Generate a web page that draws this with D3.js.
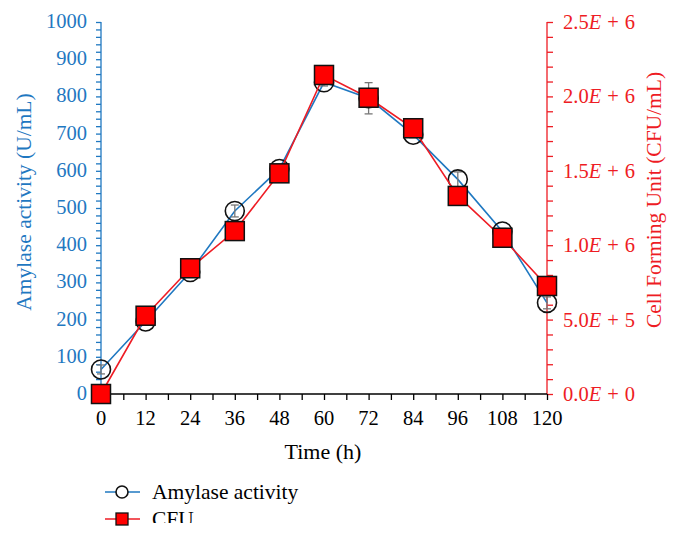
<!DOCTYPE html>
<html><head><meta charset="utf-8">
<script src="https://cdn.jsdelivr.net/npm/d3@7"></script>
<style>body{margin:0;background:#fff}svg{display:block}text{font-family:"Liberation Serif","DejaVu Serif",serif}</style>
</head><body><svg id="c" width="682" height="538"></svg>
<script>
const hours = [0,12,24,36,48,60,72,84,96,108,120];
const amylase = [66,195,328,492,605,838,795,697,577,437,245];
const amylaseErr = [12,8,8,16,8,10,42,8,20,8,16];
const cfu = [0,526000,845000,1095000,1483000,2144000,1991000,1786000,1331000,1050000,726000];
const xTicks = [0,12,24,36,48,60,72,84,96,108,120];
const leftTicks = [0,100,200,300,400,500,600,700,800,900,1000];
const rightTicks = [0,500000,1000000,1500000,2000000,2500000];
const rightLabels = [["0.0","0"],["5.0","5"],["1.0","6"],["1.5","6"],["2.0","6"],["2.5","6"]];

const blue = "#1f78c1", red = "#ee1c24";
const svg = d3.select("#c");
const L = 101, R = 547, T = 22, B = 394;
const x = d3.scaleLinear().domain([0,120]).range([L,R]);
const yL = d3.scaleLinear().domain([0,1000]).range([B,T]);
const yR = d3.scaleLinear().domain([0,2500000]).range([B,T]);

svg.append("defs").append("clipPath").attr("id","legclip")
  .append("rect").attr("x",0).attr("y",0).attr("width",682).attr("height",523);

// left axis
const gl = svg.append("g").attr("transform",`translate(${L},0)`);
gl.call(d3.axisLeft(yL).tickValues(d3.range(0,1001,20)).tickSize(5).tickFormat(""));
gl.selectAll("line,path").attr("stroke",blue).attr("stroke-width",1.3);
gl.select(".domain").attr("d",`M0,${T}V${B}`);
gl.selectAll(null).data(leftTicks).enter().append("text")
  .attr("x",-14).attr("y",d=>yL(d)+6).attr("text-anchor","end")
  .attr("fill",blue).attr("font-size",20.5).text(d=>d);

// right axis
const gr = svg.append("g").attr("transform",`translate(${R},0)`);
gr.call(d3.axisRight(yR).tickValues(d3.range(0,2500001,100000)).tickSize(6).tickFormat(""));
gr.selectAll("line,path").attr("stroke",red).attr("stroke-width",1.3);
gr.select(".domain").attr("d",`M0,${T}V${B}`);
const rt = gr.selectAll(null).data(rightTicks).enter().append("text")
  .attr("x",16).attr("y",d=>yR(d)+7).attr("fill",red).attr("font-size",20.5);
rt.each(function(d,i){
  const t=d3.select(this);
  t.append("tspan").text(rightLabels[i][0]);
  t.append("tspan").attr("font-style","italic").text("E");
  t.append("tspan").attr("dx",6).text("+");
  t.append("tspan").attr("dx",6).text(rightLabels[i][1]);
});

// bottom axis
const gb = svg.append("g").attr("transform",`translate(0,${B})`);
gb.call(d3.axisBottom(x).tickValues(d3.range(0,121,6)).tickSize(6).tickFormat(""));
gb.selectAll("line,path").attr("stroke","#000").attr("stroke-width",1.3);
gb.select(".domain").attr("d",`M${L},0H${R}`);
gb.selectAll(null).data(xTicks).enter().append("text")
  .attr("x",d=>x(d)).attr("y",31).attr("text-anchor","middle")
  .attr("font-size",20.5).attr("fill","#000").text(d=>d);

// titles
svg.append("text").attr("transform",`translate(31,202) rotate(-90)`).attr("text-anchor","middle")
  .attr("fill",blue).attr("font-size",21.5).text("Amylase activity (U/mL)");
svg.append("text").attr("transform",`translate(661,200) rotate(-90)`).attr("text-anchor","middle")
  .attr("fill",red).attr("font-size",21.5).text("Cell Forming Unit (CFU/mL)");
svg.append("text").attr("x",323).attr("y",459).attr("text-anchor","middle")
  .attr("font-size",22).attr("fill","#000").text("Time (h)");

// amylase series
const dA = hours.map((h,i)=>({h,v:amylase[i],e:amylaseErr[i]}));
const dC = hours.map((h,i)=>({h,v:cfu[i]}));
svg.append("path").datum(dA).attr("fill","none").attr("stroke",blue).attr("stroke-width",1.6)
  .attr("d",d3.line().x(d=>x(d.h)).y(d=>yL(d.v)));
const eb = svg.append("g").attr("stroke","#777").attr("stroke-width",1.3);
dA.forEach(d=>{
  const y1=yL(d.v+d.e), y2=yL(d.v-d.e), cx=x(d.h);
  eb.append("line").attr("x1",cx).attr("x2",cx).attr("y1",y1).attr("y2",y2);
  eb.append("line").attr("x1",cx-4).attr("x2",cx+4).attr("y1",y1).attr("y2",y1);
  eb.append("line").attr("x1",cx-4).attr("x2",cx+4).attr("y1",y2).attr("y2",y2);
});
svg.append("g").selectAll("circle").data(dA).enter().append("circle")
  .attr("cx",d=>x(d.h)).attr("cy",d=>yL(d.v)).attr("r",9.5)
  .attr("fill","none").attr("stroke","#111").attr("stroke-width",1.6);

// CFU series
svg.append("path").datum(dC).attr("fill","none").attr("stroke",red).attr("stroke-width",1.6)
  .attr("d",d3.line().x(d=>x(d.h)).y(d=>yR(d.v)));
svg.append("g").selectAll("rect").data(dC).enter().append("rect")
  .attr("x",d=>x(d.h)-9.5).attr("y",d=>yR(d.v)-9.5).attr("width",19).attr("height",19)
  .attr("fill","#f00").attr("stroke","#111").attr("stroke-width",1.5);

// legend
const lg = svg.append("g");
lg.append("line").attr("x1",105).attr("x2",140).attr("y1",492).attr("y2",492).attr("stroke",blue).attr("stroke-width",1.6);
lg.append("circle").attr("cx",122).attr("cy",492).attr("r",6).attr("fill","#fff").attr("stroke","#111").attr("stroke-width",1.6);
lg.append("text").attr("x",152).attr("y",499).attr("font-size",21.5).attr("fill","#000").text("Amylase activity");
lg.append("line").attr("x1",105).attr("x2",140).attr("y1",519).attr("y2",519).attr("stroke",red).attr("stroke-width",1.6);
lg.append("rect").attr("x",116).attr("y",513).attr("width",12).attr("height",12).attr("fill","#f00").attr("stroke","#111").attr("stroke-width",1.3);
lg.append("text").attr("clip-path","url(#legclip)").attr("x",152).attr("y",526).attr("font-size",21.5).attr("fill","#000").text("CFU");
</script></body></html>
